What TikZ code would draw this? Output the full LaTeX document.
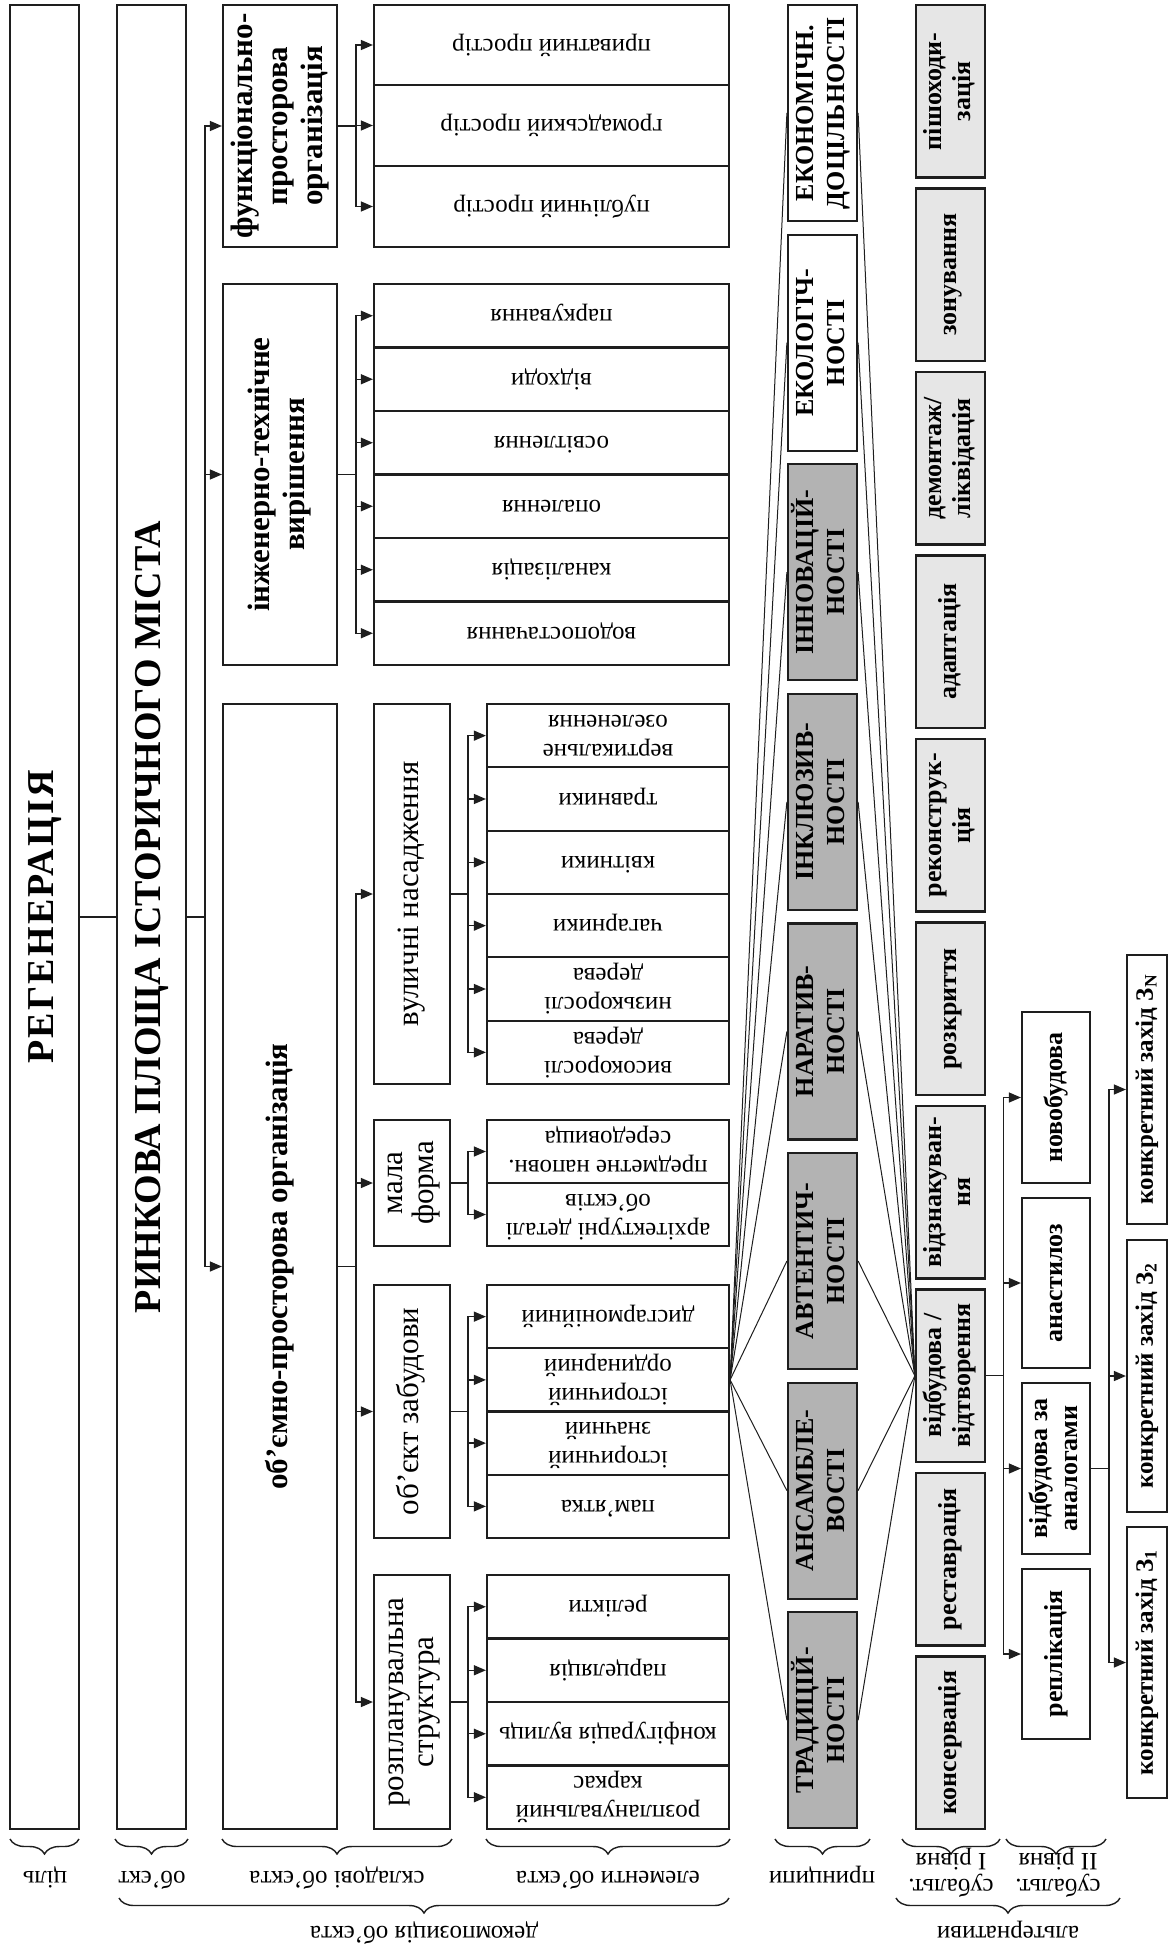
\documentclass[tikz,border=0pt]{standalone}
\usepackage{fontspec}
\setmainfont{Liberation Serif}
\usepackage{graphicx}
\usetikzlibrary{arrows.meta,decorations.pathreplacing}
\definecolor{ink}{HTML}{1E1E1E}
\definecolor{pgray}{HTML}{B3B3B3}
\definecolor{lgray}{HTML}{E6E6E6}
\newcommand\rt[1]{\rotatebox{90}{\begin{tabular}{@{}c@{}}#1\end{tabular}}}
\newcommand\rf[1]{\rotatebox{180}{\begin{tabular}{@{}c@{}}#1\end{tabular}}}
\newcommand\bx[6]{\node[#1,minimum width={(#4)-(#2)},minimum height={(#5)-(#3)}] (#6) at ({((#2)+(#4))/2},{((#3)+(#5))/2})}
\begin{document}
\begin{tikzpicture}[x=1pt,y=-1pt,
 box/.style={draw=ink,line width=2.2pt,inner sep=0pt},
 title/.style={box,font=\fontsize{38}{44}\selectfont\bfseries},
 comp/.style={box,font=\fontsize{31}{35}\selectfont\bfseries},
 sub/.style={box,font=\fontsize{31}{30}\selectfont},
 elem/.style={box,font=\fontsize{25}{29}\selectfont},
 princ/.style={box,fill=pgray,font=\fontsize{26}{31}\selectfont\bfseries},
 princw/.style={princ,fill=white},
 altI/.style={box,fill=lgray,font=\fontsize{26}{29}\selectfont\bfseries},
 altII/.style={box,font=\fontsize{26}{30}\selectfont\bfseries},
 altIII/.style={box,font=\fontsize{25}{29}\selectfont\bfseries},
 lbl/.style={inner sep=0pt,font=\fontsize{25}{26}\selectfont},
 conn/.style={draw=ink,line width=1.3pt},
 arr/.style={conn,-{Triangle[length=12pt,width=10pt]}},
 fan/.style={draw=ink,line width=1pt},
 brc/.style={draw=ink,line width=1.4pt,decorate,decoration={brace,amplitude=15pt}}
]
\fill[white] (0,0) rectangle (1171,1945);
\useasboundingbox (0,0) rectangle (1171,1945);

% goal and object
\bx{title}{10}{5}{79}{1829}{reg}{\rt{\addfontfeatures{LetterSpace=6}РЕГЕНЕРАЦІЯ}};
\bx{title}{117}{5}{186}{1829}{rin}{\rt{РИНКОВА ПЛОЩА ІСТОРИЧНОГО МІСТА}};

% components
\bx{comp}{223}{5}{337}{247}{fpo}{\rt{функціонально-\\просторова\\організація}};
\bx{comp}{223}{284}{337}{665}{itv}{\rt{інженерно-технічне\\вирішення}};
\bx{comp}{223}{704}{337}{1829}{opo}{\rt{об’ємно-просторова організація}};

% functional elements
\bx{elem}{374}{5}{729}{85}{f1}{\rf{приватний простір}};
\bx{elem}{374}{85}{729}{166}{f2}{\rf{громадський простір}};
\bx{elem}{374}{166}{729}{247}{f3}{\rf{публічний простір}};

% engineering elements
\bx{elem}{374}{284}{729}{347.5}{i1}{\rf{паркування}};
\bx{elem}{374}{347.5}{729}{411}{i2}{\rf{відходи}};
\bx{elem}{374}{411}{729}{474.5}{i3}{\rf{освітлення}};
\bx{elem}{374}{474.5}{729}{538}{i4}{\rf{опалення}};
\bx{elem}{374}{538}{729}{601.5}{i5}{\rf{каналізація}};
\bx{elem}{374}{601.5}{729}{665}{i6}{\rf{водопостачання}};

% sub-components
\bx{sub}{374}{704}{450}{1084}{vn}{\rt{вуличні насадження}};
\bx{sub}{374}{1120}{450}{1246}{mf}{\rt{мала\\форма}};
\bx{sub}{374}{1285}{450}{1538}{oz}{\rt{об’єкт забудови}};
\bx{sub}{374}{1575}{450}{1829}{rs}{\rt{розпланувальна\\структура}};

% street planting elements
\bx{elem}{487}{704}{729}{767.3}{v1}{\rf{вертикальне\\озеленення}};
\bx{elem}{487}{767.3}{729}{830.7}{v2}{\rf{травники}};
\bx{elem}{487}{830.7}{729}{894}{v3}{\rf{квітники}};
\bx{elem}{487}{894}{729}{957.3}{v4}{\rf{чагарники}};
\bx{elem}{487}{957.3}{729}{1020.7}{v5}{\rf{низькорослі\\дерева}};
\bx{elem}{487}{1020.7}{729}{1084}{v6}{\rf{високорослі\\дерева}};

% small form elements
\bx{elem}{487}{1120}{729}{1183}{m1}{\rf{предметне наповн.\\середовища}};
\bx{elem}{487}{1183}{729}{1246}{m2}{\rf{архітектурні деталі\\об’єктів}};

% building elements
\bx{elem}{487}{1285}{729}{1348.25}{o1}{\rf{дисгармонійний}};
\bx{elem}{487}{1348.25}{729}{1411.5}{o2}{\rf{історичний\\ординарний}};
\bx{elem}{487}{1411.5}{729}{1474.75}{o3}{\rf{історичний\\значний}};
\bx{elem}{487}{1474.75}{729}{1538}{o4}{\rf{пам’ятка}};

% planning elements
\bx{elem}{487}{1575}{729}{1638.5}{r1}{\rf{релікти}};
\bx{elem}{487}{1638.5}{729}{1702}{r2}{\rf{парцеляція}};
\bx{elem}{487}{1702}{729}{1765.5}{r3}{\rf{конфігурація вулиць}};
\bx{elem}{487}{1765.5}{729}{1829}{r4}{\rf{розпланувальний\\каркас}};

% principles
\bx{princw}{788}{5}{857}{221}{p0}{\rt{ЕКОНОМІЧН.\\ДОЦІЛЬНОСТІ}};
\bx{princw}{788}{234.6}{857}{450.6}{p1}{\rt{ЕКОЛОГІЧ-\\НОСТІ}};
\bx{princ}{788}{464.2}{857}{680.2}{p2}{\rt{ІННОВАЦІЙ-\\НОСТІ}};
\bx{princ}{788}{693.8}{857}{909.8}{p3}{\rt{ІНКЛЮЗИВ-\\НОСТІ}};
\bx{princ}{788}{923.4}{857}{1139.4}{p4}{\rt{НАРАТИВ-\\НОСТІ}};
\bx{princ}{788}{1153}{857}{1369}{p5}{\rt{АВТЕНТИЧ-\\НОСТІ}};
\bx{princ}{788}{1382.6}{857}{1598.6}{p6}{\rt{АНСАМБЛЕ-\\ВОСТІ}};
\bx{princ}{788}{1612.2}{857}{1828.2}{p7}{\rt{ТРАДИЦІЙ-\\НОСТІ}};

% sub-alternatives, level I
\bx{altI}{916}{5}{985}{177.5}{a0}{\rt{пішоходи-\\зація}};
\bx{altI}{916}{188.5}{985}{361}{a1}{\rt{зонування}};
\bx{altI}{916}{372}{985}{544.5}{a2}{\rt{демонтаж/\\ліквідація}};
\bx{altI}{916}{555.5}{985}{728}{a3}{\rt{адаптація}};
\bx{altI}{916}{739}{985}{911.5}{a4}{\rt{реконструк-\\ція}};
\bx{altI}{916}{922.5}{985}{1095}{a5}{\rt{розкриття}};
\bx{altI}{916}{1106}{985}{1278.5}{a6}{\rt{відзнакуван-\\ня}};
\bx{altI}{916}{1289.5}{985}{1462}{a7}{\rt{відбудова /\\відтворення}};
\bx{altI}{916}{1473}{985}{1645.5}{a8}{\rt{реставрація}};
\bx{altI}{916}{1656.5}{985}{1829}{a9}{\rt{консервація}};

% level II
\bx{altII}{1022}{1012}{1090}{1183}{b1}{\rt{новобудова}};
\bx{altII}{1022}{1198}{1090}{1368}{b2}{\rt{анастилоз}};
\bx{altII}{1022}{1383}{1090}{1554}{b3}{\rt{відбудова за\\аналогами}};
\bx{altII}{1022}{1569}{1090}{1739}{b4}{\rt{реплікація}};

% concrete measures
\bx{altIII}{1127}{955}{1167}{1224}{c3}{\rt{конкретний захід З\textsubscript{N}}};
\bx{altIII}{1127}{1240}{1167}{1512}{c2}{\rt{конкретний захід З\textsubscript{2}}};
\bx{altIII}{1127}{1527}{1167}{1798}{c1}{\rt{конкретний захід З\textsubscript{1}}};

% bus coordinates
\coordinate (B0) at (205,0);
\coordinate (B1) at (356,0);
\coordinate (B2) at (468,0);
\coordinate (B3) at (1003.5,0);
\coordinate (B4) at (1109,0);

\draw[conn] (reg.east) -- (rin.west);
\foreach \t in {fpo,itv,opo} \draw[arr] (rin.east) -- (rin.east -| B0) |- (\t.west);
\foreach \t in {f1,f2,f3} \draw[arr] (fpo.east) -- (fpo.east -| B1) |- (\t.west);
\foreach \t in {i1,i2,i3,i4,i5,i6} \draw[arr] (itv.east) -- (itv.east -| B1) |- (\t.west);
\foreach \t in {vn,mf,oz,rs} \draw[arr] (opo.east) -- (opo.east -| B1) |- (\t.west);
\foreach \t in {v1,v2,v3,v4,v5,v6} \draw[arr] (vn.east) -- (vn.east -| B2) |- (\t.west);
\foreach \t in {m1,m2} \draw[arr] (mf.east) -- (mf.east -| B2) |- (\t.west);
\foreach \t in {o1,o2,o3,o4} \draw[arr] (oz.east) -- (oz.east -| B2) |- (\t.west);
\foreach \t in {r1,r2,r3,r4} \draw[arr] (rs.east) -- (rs.east -| B2) |- (\t.west);
\foreach \p in {p0,p1,p2,p3,p4,p5,p6,p7} {
  \draw[fan] (o2.east) -- (\p.west);
  \draw[fan] (\p.east) -- (a7.west);
}
\foreach \t in {b1,b2,b3,b4} \draw[arr] (a7.east) -- (a7.east -| B3) |- (\t.west);
\foreach \t in {c1,c2,c3} \draw[arr] (b3.east) -- (b3.east -| B4) |- (\t.west);

% braces and labels
\draw[brc] (79,1839) -- (10,1839);
\draw[brc] (188,1839) -- (115,1839);
\draw[brc] (452,1839) -- (222,1839);
\draw[brc] (730,1839) -- (486,1839);
\draw[brc] (870,1839) -- (775,1839);
\draw[brc] (1000,1839) -- (902,1839);
\draw[brc] (1106,1839) -- (1006,1839);
\node[lbl] (l1) at (45,1877) {\rf{ціль}};
\node[lbl] (l2) at (152,1877) {\rf{об’єкт}};
\node[lbl] (l3) at (337,1877) {\rf{складові об’єкта}};
\node[lbl] (l4) at (608,1877) {\rf{елементи об’єкта}};
\node[lbl] (l5) at (822,1877) {\rf{принципи}};
\node[lbl] (l6) at (951,1872) {\rf{субальт.\\I рівня}};
\node[lbl] (l7) at (1058,1872) {\rf{субальт.\\II рівня}};
\draw[brc] (729,1898) -- (119,1898);
\draw[brc] (1120,1898) -- (896,1898);
\node[lbl] (l8) at (424,1932) {\rf{декомпозиція об’єкта}};
\node[lbl] (l9) at (1008,1932) {\rf{альтернативи}};
\end{tikzpicture}
\end{document}
